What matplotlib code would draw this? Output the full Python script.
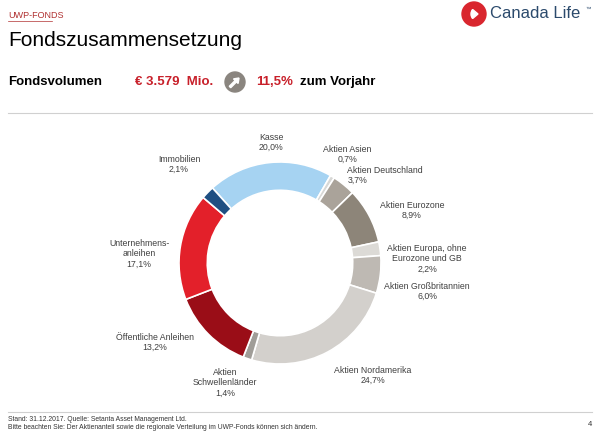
import matplotlib.pyplot as plt
from matplotlib.patches import Circle, FancyArrow, Wedge

plt.rcParams["font.family"] = ["Liberation Sans", "DejaVu Sans"]

# data
names = [
    "Kasse", "Aktien Asien", "Aktien Deutschland", "Aktien Eurozone",
    "Aktien Europa, ohne\nEurozone und GB", "Aktien Großbritannien",
    "Aktien Nordamerika", "Aktien\nSchwellenländer", "Öffentliche Anleihen",
    "Unternehmens-\nanleihen", "Immobilien",
]
shares = [20.0, 0.7, 3.7, 8.9, 2.2, 6.0, 24.7, 1.4, 13.2, 17.1, 2.1]
colors = [
    "#a6d3f2", "#d8d8d6", "#aaa39a", "#8d8579", "#dcdad6", "#beb9b3",
    "#d3d0cc", "#a09d98", "#9a0d17", "#e3202a", "#1f4f82",
]
fund_volume = "€ 3.579  Mio."
change = "11,5%"

# label anchors in pixel coords (x centre, y of first line), and value x shift
label_pos = [
    (271, 137, 0), (347, 149, 0), (385, 170, -27), (412, 205, 0),
    (427, 248, 0), (427, 286, 0), (373, 370, 0), (225, 372, 0),
    (155, 337, 0), (139, 243, 0), (179, 159, 0),
]

W, H = 600, 436
fig = plt.figure(figsize=(6, 4.36), dpi=100)
bg = fig.add_axes([0, 0, 1, 1])
bg.set_xlim(0, W)
bg.set_ylim(H, 0)
bg.axis("off")

# header
bg.text(8, 16, "UWP-FONDS", fontsize=6.5, color="#b03030", va="center")
bg.plot([8, 52], [21, 21], color="#b03030", lw=0.5)
bg.text(8, 40, "Fondszusammensetzung", fontsize=15, color="black", va="center")
bg.text(8, 82, "Fondsvolumen", fontsize=9.5, fontweight="bold", va="center")
bg.text(135, 82, fund_volume, fontsize=9.5, fontweight="bold", color="#c8202a", va="center")
bg.add_patch(Circle((235, 82), 10, color="#8a857f"))
bg.add_patch(FancyArrow(230, 87, 9, -9, width=2, head_width=6.5, head_length=4.5,
                        color="white", length_includes_head=True))
bg.text(256, 82, change, fontsize=9.5, fontweight="bold", color="#c8202a", va="center")
bg.text(300, 82, "zum Vorjahr", fontsize=9.5, fontweight="bold", va="center")

# logo
bg.add_patch(Circle((474, 14), 12, color="#d9262e"))
bg.add_patch(Wedge((478, 14), 7, 140, 220, color="white"))
bg.text(490, 14, "Canada Life", fontsize=12, color="#2b4a6c", va="center")
bg.text(585, 9, "™", fontsize=4, color="#2b4a6c", va="center")

# rules
bg.plot([8, 592], [113, 113], color="#d0d0d0", lw=0.8)
bg.plot([8, 592], [412, 412], color="#d0d0d0", lw=0.8)

# footer
bg.text(8, 419, "Stand: 31.12.2017. Quelle: Setanta Asset Management Ltd.",
        fontsize=4.9, color="#333333", va="center")
bg.text(8, 427, "Bitte beachten Sie: Der Aktienanteil sowie die regionale Verteilung "
        "im UWP-Fonds können sich ändern.", fontsize=4.9, color="#333333", va="center")
bg.text(588, 424, "4", fontsize=5.5, color="#333333", va="center")

# donut
cx, cy, r = 280, 263, 101
pie_ax = fig.add_axes([(cx - r) / W, (H - cy - r) / H, 2 * r / W, 2 * r / H])
pie_ax.pie(shares, colors=colors, startangle=132, counterclock=False,
           wedgeprops=dict(width=0.28, edgecolor="white", linewidth=1.2))
pie_ax.set_xlim(-1, 1)
pie_ax.set_ylim(-1, 1)

# labels
for name, share, (lx, ly, vdx) in zip(names, shares, label_pos):
    lines = name.split("\n")
    for i, line in enumerate(lines):
        bg.text(lx, ly + i * 10.5, line, fontsize=6.3, color="#404040",
                ha="center", va="center")
    value = f"{share:.1f}%".replace(".", ",")
    bg.text(lx + vdx, ly + len(lines) * 10.5, value, fontsize=6.3,
            color="#404040", ha="center", va="center")

fig.savefig("out.png", dpi=100)
